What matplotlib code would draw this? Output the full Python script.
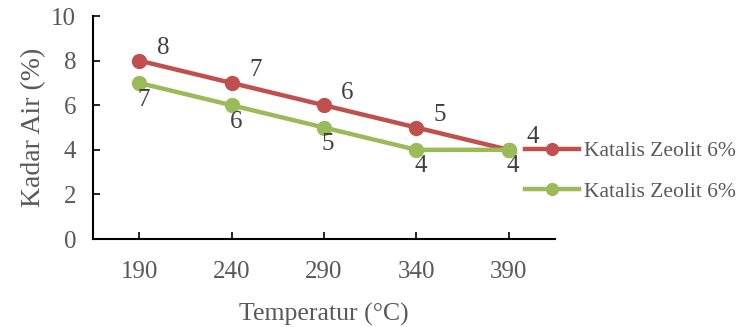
import numpy as np
import matplotlib.pyplot as plt

plt.rcParams['font.family'] = ['Liberation Serif', 'DejaVu Serif']

suhu = ['190', '240', '290', '340', '390']
kadar_merah = [8, 7, 6, 5, 4]
kadar_hijau = [7, 6, 5, 4, 4]
label_seri = ['Katalis Zeolit 6%', 'Katalis Zeolit 6%']

abu = '#595959'
merah = '#C0504D'
hijau = '#9BBB59'

fig = plt.figure(figsize=(7.4, 3.27), dpi=100)
ax = fig.add_axes([0.1257, 0.269, 0.6243, 0.682])

x = np.arange(len(suhu))
ax.plot(x, kadar_merah, color=merah, linewidth=3.2, marker='o', markersize=10, label=label_seri[0])
ax.plot(x, kadar_hijau, color=hijau, linewidth=3.2, marker='o', markersize=10, label=label_seri[1])

# label data
for xi, v in zip(x, kadar_merah):
    ax.annotate(str(v), (xi, v), xytext=(17, 9), textcoords='offset points',
                ha='center', va='center', fontsize=18, color='#404040')
for xi, v in zip(x, kadar_hijau):
    ax.annotate(str(v), (xi, v), xytext=(3, -12), textcoords='offset points',
                ha='center', va='center', fontsize=18, color='#404040')

ax.set_xlim(-0.5, 4.5)
ax.set_ylim(0, 10)
ax.set_yticks([0, 2, 4, 6, 8, 10])
ax.set_xticks(x)
ax.set_xticklabels(suhu)
ax.spines['top'].set_visible(False)
ax.spines['right'].set_visible(False)
ax.spines['left'].set_linewidth(1.5)
ax.spines['bottom'].set_linewidth(1.5)
ax.tick_params(axis='both', direction='in', length=5, width=1.2, labelsize=18, labelcolor=abu)
ax.tick_params(axis='x', pad=16)
ax.tick_params(axis='y', pad=12)
ax.set_xlabel('Temperatur (°C)', fontsize=18.5, color=abu, labelpad=14)
ax.set_ylabel('Kadar Air (%)', fontsize=20, color=abu, labelpad=4)

leg = fig.legend(loc='center left', bbox_to_anchor=(0.71, 0.475), frameon=False,
                 fontsize=15.5, handlelength=2.5, labelspacing=0.95, handletextpad=0.2,
                 borderpad=0, borderaxespad=0, markerscale=0.85)
for t in leg.get_texts():
    t.set_color(abu)

fig.savefig('out.png', dpi=100)
